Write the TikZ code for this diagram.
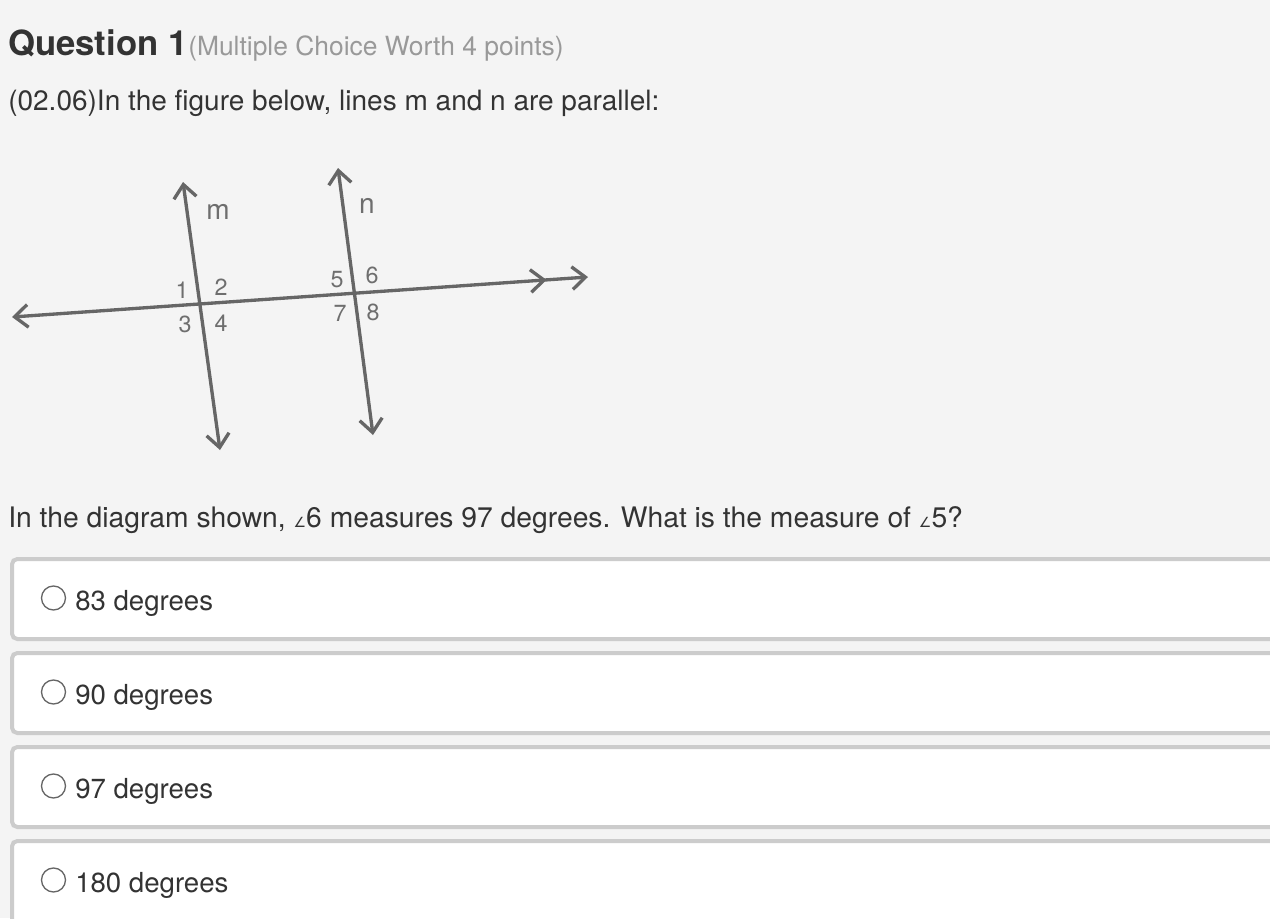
\documentclass[tikz,border=0pt]{standalone}
\usepackage{fontspec}
\setmainfont{TeX Gyre Heros}
\newfontfamily\dvs{DejaVu Sans}
\usetikzlibrary{arrows.meta}
\definecolor{bg}{HTML}{F4F4F4}
\definecolor{ink}{HTML}{333333}
\definecolor{subc}{HTML}{999999}
\definecolor{figc}{HTML}{666666}
\definecolor{labc}{HTML}{6E6E6E}
\definecolor{bord}{HTML}{CCCCCC}
\newcommand\angsym{{\dvs\fontsize{10.5pt}{10pt}\selectfont ∠}}
\tikzset{
  txt/.style={anchor=base west, inner sep=0pt, text=ink},
  figline/.style={figc, line width=2.5pt, line cap=round},
  barb/.tip={Straight Barb[length=10pt, width=17pt, line width=2.5pt]},
  lab/.style={inner sep=0pt, text=labc, font=\fontsize{17.5pt}{17.5pt}\selectfont},
  linelab/.style={inner sep=0pt, text=labc, font=\fontsize{21pt}{21pt}\selectfont},
  choicebox/.style={draw=bord, line width=3pt, fill=white, rounded corners=4pt},
  radio/.style={draw=figc, line width=1pt, fill=white},
  choicetxt/.style={anchor=base west, inner sep=0pt, text=ink, font=\fontsize{20.7pt}{24pt}\selectfont}
}
\begin{document}
\begin{tikzpicture}[x=0.75pt,y=-0.75pt]
\fill[bg] (0,0) rectangle (1270,918);
\useasboundingbox (0,0) rectangle (1270,918);
\clip (0,0) rectangle (1270,918);

% heading
\node[txt, font=\bfseries\fontsize{26pt}{30pt}\selectfont] (q) at (8,55) {Question 1};
\node[txt, text=subc, font=\fontsize{19.8pt}{24pt}\selectfont] (sub) at (188,55) {(Multiple Choice Worth 4 points)};
\node[txt, font=\fontsize{21pt}{24pt}\selectfont] (intro) at (8,110) {(02.06)In the figure below, lines m and n are parallel:};

% figure
\coordinate (mT) at (183,182);
\coordinate (mB) at (220,450);
\coordinate (tL) at (12,317);
\coordinate (tR) at (588,277);
\coordinate (nT) at (338,168);
\coordinate (nB) at (373,435);
\draw[figline, {barb}-{barb}] (mT) -- (mB);
\draw[figline, {barb}-{barb}] (nT) -- (nB);
\draw[figline, {barb}-{Straight Barb[length=10pt, width=17pt, line width=2.5pt, sep=18pt]barb}] (tL) -- (tR);

\node[linelab] (lm) at (218,212) {m};
\node[linelab] (ln) at (367,206) {n};
\node[lab] (a1) at (182,290) {1};
\node[lab] (a2) at (221,287) {2};
\node[lab] (a3) at (185,324) {3};
\node[lab] (a4) at (221,323) {4};
\node[lab] (a5) at (337,280) {5};
\node[lab] (a6) at (372,275) {6};
\node[lab] (a7) at (340,313) {7};
\node[lab] (a8) at (373,312) {8};

% question
\node[txt, font=\fontsize{21.2pt}{24pt}\selectfont] (qt) at (8,527) {In the diagram shown, \angsym6 measures 97 degrees. What is the measure of \angsym5?};

% choices
\draw[choicebox] (12,559) rectangle (1300,639);
\draw[choicebox] (12,653) rectangle (1300,733);
\draw[choicebox] (12,747) rectangle (1300,827);
\draw[choicebox] (12,841) rectangle (1300,930);

\draw[radio] (53.5,598) circle[radius=12];
\draw[radio] (53.5,692) circle[radius=12];
\draw[radio] (53.5,786) circle[radius=12];
\draw[radio] (53.5,880) circle[radius=12];

\node[choicetxt] (c1) at (75,610) {83 degrees};
\node[choicetxt] (c2) at (75,704) {90 degrees};
\node[choicetxt] (c3) at (75,798) {97 degrees};
\node[choicetxt] (c4) at (75,892) {180 degrees};
\end{tikzpicture}
\end{document}
